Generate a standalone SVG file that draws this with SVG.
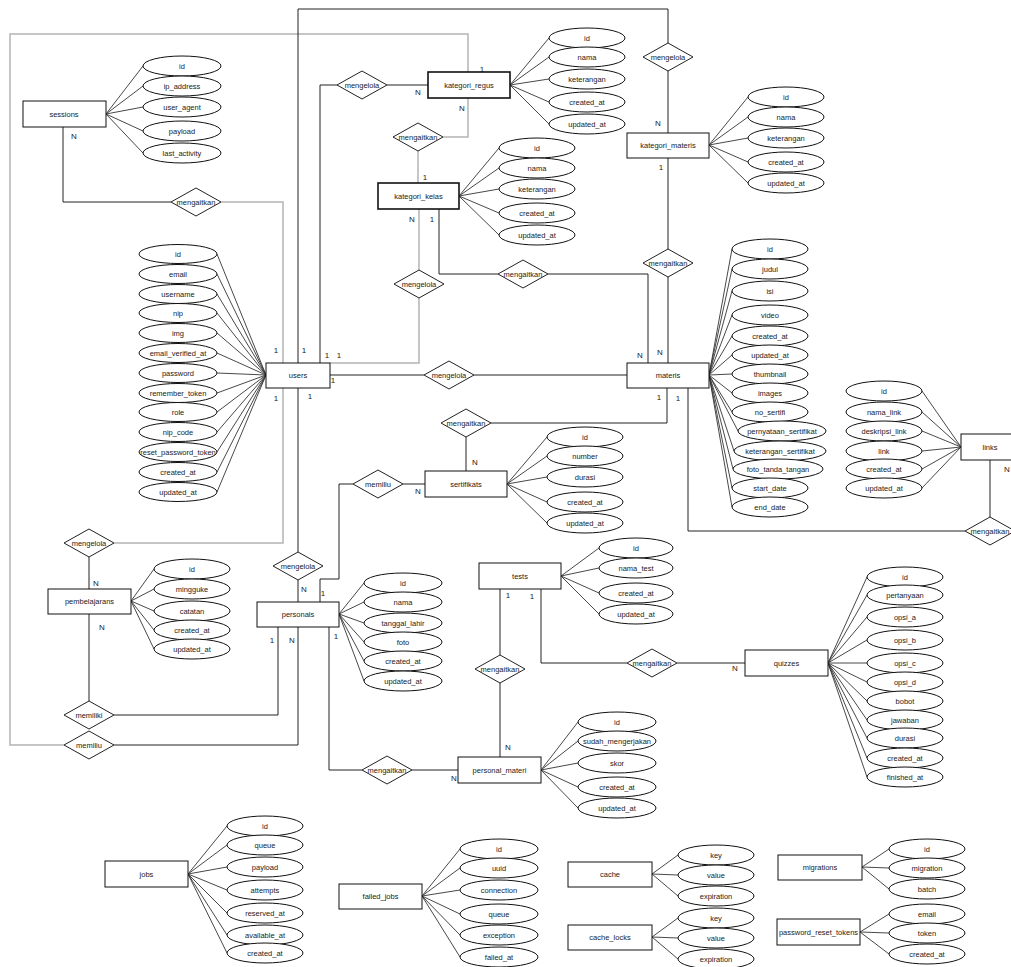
<svg xmlns="http://www.w3.org/2000/svg" width="1011" height="967" viewBox="0 0 1011 967">
<style>
.e{fill:#fff;stroke:#111;stroke-width:1}
.b{fill:#fff;stroke:#111;stroke-width:1}
.bb{fill:#fff;stroke:#111;stroke-width:1.6}
.d{fill:#fff;stroke:#222;stroke-width:1}
.t{font-family:"Liberation Sans",Arial,sans-serif;font-size:7.5px;fill:#222;text-anchor:middle;dominant-baseline:central}
.c{font-family:"Liberation Sans",Arial,sans-serif;font-size:8px;fill:#222;text-anchor:middle;dominant-baseline:central}
.l{stroke:#222;stroke-width:1;fill:none}
.a{stroke:#333;stroke-width:0.9;fill:none}
.g{stroke:#b4b4b4;stroke-width:1.5;fill:none}
</style>
<rect width="1011" height="967" fill="#fff"/>
<g id="connectors">
<polyline class="g" points="468,72 468,34 10,34 10,745 64,745"/>
<polyline class="g" points="468,98 468,137 443,137"/>
<polyline class="g" points="418,151 418,183"/>
<polyline class="g" points="419,209 419,270"/>
<polyline class="g" points="419,298 419,363 330,363"/>
<polyline class="g" points="221,202 283,202 283,363"/>
<polyline class="g" points="283,388 283,543 114,543"/>
<polyline class="l" points="298,363 298,9 668,9 668,43"/>
<polyline class="l" points="668,71 668,133"/>
<polyline class="l" points="320,363 320,85 337,85"/>
<polyline class="l" points="387,85 428,85"/>
<polyline class="l" points="439,209 439,274 498,274"/>
<polyline class="l" points="548,274 648,274 648,363"/>
<polyline class="l" points="668,158 668,249"/>
<polyline class="l" points="668,277 668,363"/>
<polyline class="l" points="330,375 424,375"/>
<polyline class="l" points="474,375 627,375"/>
<polyline class="l" points="667,388 667,423 491,423"/>
<polyline class="l" points="466,437 466,471"/>
<polyline class="l" points="688,388 688,531 965,531"/>
<polyline class="l" points="990,517 990,460"/>
<polyline class="l" points="298,388 298,552"/>
<polyline class="l" points="298,580 298,602"/>
<polyline class="l" points="320,602 320,579 339,579 339,484 353,484"/>
<polyline class="l" points="403,484 425,484"/>
<polyline class="l" points="63,127 63,202 171,202"/>
<polyline class="l" points="89,557 89,589"/>
<polyline class="l" points="89,614 89,701"/>
<polyline class="l" points="278,627 278,715 114,715"/>
<polyline class="l" points="298,627 298,745 114,745"/>
<polyline class="l" points="329,627 329,770 362,770"/>
<polyline class="l" points="412,770 458,770"/>
<polyline class="l" points="500,589 500,655"/>
<polyline class="l" points="500,683 500,757"/>
<polyline class="l" points="541,589 541,663 627,663"/>
<polyline class="l" points="677,663 745,663"/>
</g>
<g id="relationships">
<g id="r_mengelola_regus"><polygon class="d" points="337,85 362,71 387,85 362,99"/><text class="t" x="362" y="85">mengelola</text></g>
<g id="r_mengaitkan_regus_kelas"><polygon class="d" points="393,137 418,123 443,137 418,151"/><text class="t" x="418" y="137">mengaitkan</text></g>
<g id="r_mengelola_kelas_users"><polygon class="d" points="394,284 419,270 444,284 419,298"/><text class="t" x="419" y="284">mengelola</text></g>
<g id="r_mengaitkan_kelas_materis"><polygon class="d" points="498,274 523,260 548,274 523,288"/><text class="t" x="523" y="274">mengaitkan</text></g>
<g id="r_mengelola_katmateri"><polygon class="d" points="643,57 668,43 693,57 668,71"/><text class="t" x="668" y="57">mengelola</text></g>
<g id="r_mengaitkan_katmateri_materis"><polygon class="d" points="643,263 668,249 693,263 668,277"/><text class="t" x="668" y="263">mengaitkan</text></g>
<g id="r_mengaitkan_sessions"><polygon class="d" points="171,202 196,188 221,202 196,216"/><text class="t" x="196" y="202">mengaitkan</text></g>
<g id="r_mengelola_users_materis"><polygon class="d" points="424,375 449,361 474,375 449,389"/><text class="t" x="449" y="375">mengelola</text></g>
<g id="r_mengaitkan_materis_sertifikats"><polygon class="d" points="441,423 466,409 491,423 466,437"/><text class="t" x="466" y="423">mengaitkan</text></g>
<g id="r_memiliu_sertifikats"><polygon class="d" points="353,484 378,470 403,484 378,498"/><text class="t" x="378" y="484">memiliu</text></g>
<g id="r_mengaitkan_links"><polygon class="d" points="965,531 990,517 1015,531 990,545"/><text class="t" x="990" y="531">mengaitkan</text></g>
<g id="r_mengelola_pembelajarans"><polygon class="d" points="64,543 89,529 114,543 89,557"/><text class="t" x="89" y="543">mengelola</text></g>
<g id="r_mengelola_personals"><polygon class="d" points="273,566 298,552 323,566 298,580"/><text class="t" x="298" y="566">mengelola</text></g>
<g id="r_memiliki"><polygon class="d" points="64,715 89,701 114,715 89,729"/><text class="t" x="89" y="715">memiliki</text></g>
<g id="r_memiliu"><polygon class="d" points="64,745 89,731 114,745 89,759"/><text class="t" x="89" y="745">memiliu</text></g>
<g id="r_mengaitkan_tests_pm"><polygon class="d" points="475,669 500,655 525,669 500,683"/><text class="t" x="500" y="669">mengaitkan</text></g>
<g id="r_mengaitkan_tests_quizzes"><polygon class="d" points="627,663 652,649 677,663 652,677"/><text class="t" x="652" y="663">mengaitkan</text></g>
<g id="r_mengaitkan_personals_pm"><polygon class="d" points="362,770 387,756 412,770 387,784"/><text class="t" x="387" y="770">mengaitkan</text></g>
</g>
<g id="sessions">
<path class="a" d="M106,114L143,66M106,114L143,86M106,114L143,107M106,114L143,131M106,114L143,153"/>
<ellipse class="e" cx="182" cy="66" rx="39" ry="10"/><text class="t" x="182" y="66">id</text>
<ellipse class="e" cx="182" cy="86" rx="39" ry="10"/><text class="t" x="182" y="86">ip_address</text>
<ellipse class="e" cx="182" cy="107" rx="39" ry="10"/><text class="t" x="182" y="107">user_agent</text>
<ellipse class="e" cx="182" cy="131" rx="39" ry="10"/><text class="t" x="182" y="131">payload</text>
<ellipse class="e" cx="182" cy="153" rx="39" ry="10"/><text class="t" x="182" y="153">last_activity</text>
<rect class="b" x="23" y="101" width="83" height="26"/><text class="t" x="64" y="114">sessions</text>
</g>
<g id="kategori_regus">
<path class="a" d="M510,85L549,38M510,85L549,57M510,85L549,79M510,85L549,102M510,85L549,124"/>
<ellipse class="e" cx="587" cy="38" rx="38" ry="10"/><text class="t" x="587" y="38">id</text>
<ellipse class="e" cx="587" cy="57" rx="38" ry="10"/><text class="t" x="587" y="57">nama</text>
<ellipse class="e" cx="587" cy="79" rx="38" ry="10"/><text class="t" x="587" y="79">keterangan</text>
<ellipse class="e" cx="587" cy="102" rx="38" ry="10"/><text class="t" x="587" y="102">created_at</text>
<ellipse class="e" cx="587" cy="124" rx="38" ry="10"/><text class="t" x="587" y="124">updated_at</text>
<rect class="bb" x="428" y="72" width="82" height="26"/><text class="t" x="469" y="85">kategori_regus</text>
</g>
<g id="kategori_kelas">
<path class="a" d="M459,196L499,148M459,196L499,168M459,196L499,189M459,196L499,213M459,196L499,235"/>
<ellipse class="e" cx="537" cy="148" rx="38" ry="10"/><text class="t" x="537" y="148">id</text>
<ellipse class="e" cx="537" cy="168" rx="38" ry="10"/><text class="t" x="537" y="168">nama</text>
<ellipse class="e" cx="537" cy="189" rx="38" ry="10"/><text class="t" x="537" y="189">keterangan</text>
<ellipse class="e" cx="537" cy="213" rx="38" ry="10"/><text class="t" x="537" y="213">created_at</text>
<ellipse class="e" cx="537" cy="235" rx="38" ry="10"/><text class="t" x="537" y="235">updated_at</text>
<rect class="bb" x="378" y="183" width="81" height="26"/><text class="t" x="418.5" y="196">kategori_kelas</text>
</g>
<g id="kategori_materis">
<path class="a" d="M709,145L748,97M709,145L748,117M709,145L748,138M709,145L748,162M709,145L748,183"/>
<ellipse class="e" cx="786" cy="97" rx="38" ry="10"/><text class="t" x="786" y="97">id</text>
<ellipse class="e" cx="786" cy="117" rx="38" ry="10"/><text class="t" x="786" y="117">nama</text>
<ellipse class="e" cx="786" cy="138" rx="38" ry="10"/><text class="t" x="786" y="138">keterangan</text>
<ellipse class="e" cx="786" cy="162" rx="38" ry="10"/><text class="t" x="786" y="162">created_at</text>
<ellipse class="e" cx="786" cy="183" rx="38" ry="10"/><text class="t" x="786" y="183">updated_at</text>
<rect class="b" x="627" y="133" width="82" height="25"/><text class="t" x="668" y="145.5">kategori_materis</text>
</g>
<g id="users">
<path class="a" d="M266,375L217,254M266,375L217,274M266,375L217,294M266,375L217,313M266,375L217,333M266,375L217,353M266,375L217,373M266,375L217,393M266,375L217,412M266,375L217,432M266,375L217,452M266,375L217,472M266,375L217,492"/>
<ellipse class="e" cx="178" cy="254" rx="39" ry="9.5"/><text class="t" x="178" y="254">id</text>
<ellipse class="e" cx="178" cy="274" rx="39" ry="9.5"/><text class="t" x="178" y="274">email</text>
<ellipse class="e" cx="178" cy="294" rx="39" ry="9.5"/><text class="t" x="178" y="294">username</text>
<ellipse class="e" cx="178" cy="313" rx="39" ry="9.5"/><text class="t" x="178" y="313">nip</text>
<ellipse class="e" cx="178" cy="333" rx="39" ry="9.5"/><text class="t" x="178" y="333">img</text>
<ellipse class="e" cx="178" cy="353" rx="39" ry="9.5"/><text class="t" x="178" y="353">email_verified_at</text>
<ellipse class="e" cx="178" cy="373" rx="39" ry="9.5"/><text class="t" x="178" y="373">password</text>
<ellipse class="e" cx="178" cy="393" rx="39" ry="9.5"/><text class="t" x="178" y="393">remember_token</text>
<ellipse class="e" cx="178" cy="412" rx="39" ry="9.5"/><text class="t" x="178" y="412">role</text>
<ellipse class="e" cx="178" cy="432" rx="39" ry="9.5"/><text class="t" x="178" y="432">nip_code</text>
<ellipse class="e" cx="178" cy="452" rx="39" ry="9.5"/><text class="t" x="178" y="452">reset_password_token</text>
<ellipse class="e" cx="178" cy="472" rx="39" ry="9.5"/><text class="t" x="178" y="472">created_at</text>
<ellipse class="e" cx="178" cy="492" rx="39" ry="9.5"/><text class="t" x="178" y="492">updated_at</text>
<rect class="b" x="266" y="363" width="64" height="25"/><text class="t" x="298" y="375.5">users</text>
</g>
<g id="materis">
<path class="a" d="M709,375L732,249M709,375L732,269M709,375L732,291M709,375L732,315M709,375L732,336M709,375L732,355M709,375L732,374M709,375L732,393M709,375L732,412M709,375L738,431M709,375L734,451M709,375L733,469M709,375L732,488M709,375L732,507"/>
<ellipse class="e" cx="770" cy="249" rx="38" ry="10"/><text class="t" x="770" y="249">id</text>
<ellipse class="e" cx="770" cy="269" rx="38" ry="10"/><text class="t" x="770" y="269">judul</text>
<ellipse class="e" cx="770" cy="291" rx="38" ry="10"/><text class="t" x="770" y="291">isi</text>
<ellipse class="e" cx="770" cy="315" rx="38" ry="10"/><text class="t" x="770" y="315">video</text>
<ellipse class="e" cx="770" cy="336" rx="38" ry="10"/><text class="t" x="770" y="336">created_at</text>
<ellipse class="e" cx="770" cy="355" rx="38" ry="10"/><text class="t" x="770" y="355">updated_at</text>
<ellipse class="e" cx="770" cy="374" rx="38" ry="10"/><text class="t" x="770" y="374">thumbnail</text>
<ellipse class="e" cx="770" cy="393" rx="38" ry="10"/><text class="t" x="770" y="393">images</text>
<ellipse class="e" cx="770" cy="412" rx="38" ry="10"/><text class="t" x="770" y="412">no_sertifi</text>
<ellipse class="e" cx="782" cy="431" rx="44" ry="10"/><text class="t" x="782" y="431">pernyataan_sertifikat</text>
<ellipse class="e" cx="780" cy="451" rx="46" ry="10"/><text class="t" x="780" y="451">keterangan_sertifikat</text>
<ellipse class="e" cx="778" cy="469" rx="45" ry="10"/><text class="t" x="778" y="469">foto_tanda_tangan</text>
<ellipse class="e" cx="770" cy="488" rx="38" ry="10"/><text class="t" x="770" y="488">start_date</text>
<ellipse class="e" cx="770" cy="507" rx="38" ry="10"/><text class="t" x="770" y="507">end_date</text>
<rect class="b" x="627" y="363" width="82" height="25"/><text class="t" x="668" y="375.5">materis</text>
</g>
<g id="links">
<path class="a" d="M961,447L922,391M961,447L922,412M961,447L922,431M961,447L922,451M961,447L922,469M961,447L922,488"/>
<ellipse class="e" cx="884" cy="391" rx="38" ry="10"/><text class="t" x="884" y="391">id</text>
<ellipse class="e" cx="884" cy="412" rx="38" ry="10"/><text class="t" x="884" y="412">nama_link</text>
<ellipse class="e" cx="884" cy="431" rx="38" ry="10"/><text class="t" x="884" y="431">deskripsi_link</text>
<ellipse class="e" cx="884" cy="451" rx="38" ry="10"/><text class="t" x="884" y="451">link</text>
<ellipse class="e" cx="884" cy="469" rx="38" ry="10"/><text class="t" x="884" y="469">created_at</text>
<ellipse class="e" cx="884" cy="488" rx="38" ry="10"/><text class="t" x="884" y="488">updated_at</text>
<rect class="b" x="961" y="434" width="58" height="26"/><text class="t" x="990" y="447">links</text>
</g>
<g id="sertifikats">
<path class="a" d="M507,484L547,437M507,484L547,456M507,484L547,477M507,484L547,502M507,484L547,523"/>
<ellipse class="e" cx="585" cy="437" rx="38" ry="10"/><text class="t" x="585" y="437">id</text>
<ellipse class="e" cx="585" cy="456" rx="38" ry="10"/><text class="t" x="585" y="456">number</text>
<ellipse class="e" cx="585" cy="477" rx="38" ry="10"/><text class="t" x="585" y="477">durasi</text>
<ellipse class="e" cx="585" cy="502" rx="38" ry="10"/><text class="t" x="585" y="502">created_at</text>
<ellipse class="e" cx="585" cy="523" rx="38" ry="10"/><text class="t" x="585" y="523">updated_at</text>
<rect class="b" x="425" y="471" width="82" height="26"/><text class="t" x="466" y="484">sertifikats</text>
</g>
<g id="pembelajarans">
<path class="a" d="M131,601L154,569M131,601L154,589M131,601L154,611M131,601L154,630M131,601L154,649"/>
<ellipse class="e" cx="192" cy="569" rx="38" ry="10"/><text class="t" x="192" y="569">id</text>
<ellipse class="e" cx="192" cy="589" rx="38" ry="10"/><text class="t" x="192" y="589">mingguke</text>
<ellipse class="e" cx="192" cy="611" rx="38" ry="10"/><text class="t" x="192" y="611">catatan</text>
<ellipse class="e" cx="192" cy="630" rx="38" ry="10"/><text class="t" x="192" y="630">created_at</text>
<ellipse class="e" cx="192" cy="649" rx="38" ry="10"/><text class="t" x="192" y="649">updated_at</text>
<rect class="b" x="48" y="589" width="83" height="25"/><text class="t" x="89.5" y="601.5">pembelajarans</text>
</g>
<g id="personals">
<path class="a" d="M339,614L364,583M339,614L364,602M339,614L364,623M339,614L364,642M339,614L364,661M339,614L364,681"/>
<ellipse class="e" cx="403" cy="583" rx="39" ry="10"/><text class="t" x="403" y="583">id</text>
<ellipse class="e" cx="403" cy="602" rx="39" ry="10"/><text class="t" x="403" y="602">nama</text>
<ellipse class="e" cx="403" cy="623" rx="39" ry="10"/><text class="t" x="403" y="623">tanggal_lahir</text>
<ellipse class="e" cx="403" cy="642" rx="39" ry="10"/><text class="t" x="403" y="642">foto</text>
<ellipse class="e" cx="403" cy="661" rx="39" ry="10"/><text class="t" x="403" y="661">created_at</text>
<ellipse class="e" cx="403" cy="681" rx="39" ry="10"/><text class="t" x="403" y="681">updated_at</text>
<rect class="b" x="257" y="602" width="82" height="25"/><text class="t" x="298" y="614.5">personals</text>
</g>
<g id="tests">
<path class="a" d="M561,576L599,548M561,576L599,568M561,576L599,593M561,576L599,614"/>
<ellipse class="e" cx="636" cy="548" rx="37" ry="10"/><text class="t" x="636" y="548">id</text>
<ellipse class="e" cx="636" cy="568" rx="37" ry="10"/><text class="t" x="636" y="568">nama_test</text>
<ellipse class="e" cx="636" cy="593" rx="37" ry="10"/><text class="t" x="636" y="593">created_at</text>
<ellipse class="e" cx="636" cy="614" rx="37" ry="10"/><text class="t" x="636" y="614">updated_at</text>
<rect class="b" x="479" y="563" width="82" height="26"/><text class="t" x="520" y="576">tests</text>
</g>
<g id="quizzes">
<path class="a" d="M828,663L867,577M828,663L867,595M828,663L867,617M828,663L867,640M828,663L867,663M828,663L867,682M828,663L867,701M828,663L867,720M828,663L867,738M828,663L867,758M828,663L867,777"/>
<ellipse class="e" cx="905" cy="577" rx="38" ry="10"/><text class="t" x="905" y="577">id</text>
<ellipse class="e" cx="905" cy="595" rx="38" ry="10"/><text class="t" x="905" y="595">pertanyaan</text>
<ellipse class="e" cx="905" cy="617" rx="38" ry="10"/><text class="t" x="905" y="617">opsi_a</text>
<ellipse class="e" cx="905" cy="640" rx="38" ry="10"/><text class="t" x="905" y="640">opsi_b</text>
<ellipse class="e" cx="905" cy="663" rx="38" ry="10"/><text class="t" x="905" y="663">opsi_c</text>
<ellipse class="e" cx="905" cy="682" rx="38" ry="10"/><text class="t" x="905" y="682">opsi_d</text>
<ellipse class="e" cx="905" cy="701" rx="38" ry="10"/><text class="t" x="905" y="701">bobot</text>
<ellipse class="e" cx="905" cy="720" rx="38" ry="10"/><text class="t" x="905" y="720">jawaban</text>
<ellipse class="e" cx="905" cy="738" rx="38" ry="10"/><text class="t" x="905" y="738">durasi</text>
<ellipse class="e" cx="905" cy="758" rx="38" ry="10"/><text class="t" x="905" y="758">created_at</text>
<ellipse class="e" cx="905" cy="777" rx="38" ry="10"/><text class="t" x="905" y="777">finished_at</text>
<rect class="b" x="745" y="650" width="83" height="26"/><text class="t" x="786.5" y="663">quizzes</text>
</g>
<g id="personal_materi">
<path class="a" d="M541,770L578,722M541,770L578,741M541,770L578,763M541,770L578,787M541,770L578,808"/>
<ellipse class="e" cx="617" cy="722" rx="39" ry="10"/><text class="t" x="617" y="722">id</text>
<ellipse class="e" cx="617" cy="741" rx="39" ry="10"/><text class="t" x="617" y="741">sudah_mengerjakan</text>
<ellipse class="e" cx="617" cy="763" rx="39" ry="10"/><text class="t" x="617" y="763">skor</text>
<ellipse class="e" cx="617" cy="787" rx="39" ry="10"/><text class="t" x="617" y="787">created_at</text>
<ellipse class="e" cx="617" cy="808" rx="39" ry="10"/><text class="t" x="617" y="808">updated_at</text>
<rect class="b" x="458" y="757" width="83" height="26"/><text class="t" x="499.5" y="770">personal_materi</text>
</g>
<g id="jobs">
<path class="a" d="M188,874L227,826M188,874L227,845M188,874L227,867M188,874L227,890M188,874L227,913M188,874L227,935M188,874L227,953"/>
<ellipse class="e" cx="265" cy="826" rx="38" ry="10"/><text class="t" x="265" y="826">id</text>
<ellipse class="e" cx="265" cy="845" rx="38" ry="10"/><text class="t" x="265" y="845">queue</text>
<ellipse class="e" cx="265" cy="867" rx="38" ry="10"/><text class="t" x="265" y="867">payload</text>
<ellipse class="e" cx="265" cy="890" rx="38" ry="10"/><text class="t" x="265" y="890">attempts</text>
<ellipse class="e" cx="265" cy="913" rx="38" ry="10"/><text class="t" x="265" y="913">reserved_at</text>
<ellipse class="e" cx="265" cy="935" rx="38" ry="10"/><text class="t" x="265" y="935">available_at</text>
<ellipse class="e" cx="265" cy="953" rx="38" ry="10"/><text class="t" x="265" y="953">created_at</text>
<rect class="b" x="105" y="861" width="83" height="26"/><text class="t" x="146.5" y="874">jobs</text>
</g>
<g id="failed_jobs">
<path class="a" d="M422,896L460,849M422,896L460,868M422,896L460,890M422,896L460,914M422,896L460,935M422,896L460,957"/>
<ellipse class="e" cx="499" cy="849" rx="39" ry="10"/><text class="t" x="499" y="849">id</text>
<ellipse class="e" cx="499" cy="868" rx="39" ry="10"/><text class="t" x="499" y="868">uuid</text>
<ellipse class="e" cx="499" cy="890" rx="39" ry="10"/><text class="t" x="499" y="890">connection</text>
<ellipse class="e" cx="499" cy="914" rx="39" ry="10"/><text class="t" x="499" y="914">queue</text>
<ellipse class="e" cx="499" cy="935" rx="39" ry="10"/><text class="t" x="499" y="935">exception</text>
<ellipse class="e" cx="499" cy="957" rx="39" ry="10"/><text class="t" x="499" y="957">failed_at</text>
<rect class="b" x="339" y="884" width="83" height="25"/><text class="t" x="380.5" y="896.5">failed_jobs</text>
</g>
<g id="cache">
<path class="a" d="M652,874L678,855M652,874L678,875M652,874L678,896"/>
<ellipse class="e" cx="716" cy="855" rx="38" ry="10"/><text class="t" x="716" y="855">key</text>
<ellipse class="e" cx="716" cy="875" rx="38" ry="10"/><text class="t" x="716" y="875">value</text>
<ellipse class="e" cx="716" cy="896" rx="38" ry="10"/><text class="t" x="716" y="896">expiration</text>
<rect class="b" x="568" y="862" width="84" height="25"/><text class="t" x="610" y="874.5">cache</text>
</g>
<g id="cache_locks">
<path class="a" d="M652,937L678,918M652,937L678,938M652,937L678,959"/>
<ellipse class="e" cx="716" cy="918" rx="38" ry="10"/><text class="t" x="716" y="918">key</text>
<ellipse class="e" cx="716" cy="938" rx="38" ry="10"/><text class="t" x="716" y="938">value</text>
<ellipse class="e" cx="716" cy="959" rx="38" ry="10"/><text class="t" x="716" y="959">expiration</text>
<rect class="b" x="568" y="925" width="84" height="25"/><text class="t" x="610" y="937.5">cache_locks</text>
</g>
<g id="migrations">
<path class="a" d="M862,867L889,849M862,867L889,868M862,867L889,889"/>
<ellipse class="e" cx="927" cy="849" rx="38" ry="10"/><text class="t" x="927" y="849">id</text>
<ellipse class="e" cx="927" cy="868" rx="38" ry="10"/><text class="t" x="927" y="868">migration</text>
<ellipse class="e" cx="927" cy="889" rx="38" ry="10"/><text class="t" x="927" y="889">batch</text>
<rect class="b" x="778" y="855" width="84" height="25"/><text class="t" x="820" y="867.5">migrations</text>
</g>
<g id="password_reset_tokens">
<path class="a" d="M860,932L889,914M860,932L889,933M860,932L889,954"/>
<ellipse class="e" cx="927" cy="914" rx="38" ry="10"/><text class="t" x="927" y="914">email</text>
<ellipse class="e" cx="927" cy="933" rx="38" ry="10"/><text class="t" x="927" y="933">token</text>
<ellipse class="e" cx="927" cy="954" rx="38" ry="10"/><text class="t" x="927" y="954">created_at</text>
<rect class="b" x="777" y="919" width="83" height="26"/><text class="t" x="818.5" y="932">password_reset_tokens</text>
</g>
<g id="cardinalities">
<text class="c" x="74" y="136">N</text>
<text class="c" x="418" y="92">N</text>
<text class="c" x="482" y="69">1</text>
<text class="c" x="462" y="108">N</text>
<text class="c" x="425" y="177">1</text>
<text class="c" x="412" y="219">N</text>
<text class="c" x="432" y="219">1</text>
<text class="c" x="658" y="123">N</text>
<text class="c" x="661" y="167">1</text>
<text class="c" x="276" y="350">1</text>
<text class="c" x="304" y="350">1</text>
<text class="c" x="327" y="355">1</text>
<text class="c" x="339" y="355">1</text>
<text class="c" x="333" y="380">1</text>
<text class="c" x="276" y="398">1</text>
<text class="c" x="310" y="396">1</text>
<text class="c" x="640" y="355">N</text>
<text class="c" x="660" y="352">N</text>
<text class="c" x="659" y="397">1</text>
<text class="c" x="678" y="398">1</text>
<text class="c" x="475" y="462">N</text>
<text class="c" x="418" y="491">N</text>
<text class="c" x="1007" y="469">N</text>
<text class="c" x="96" y="583">N</text>
<text class="c" x="102" y="627">N</text>
<text class="c" x="304" y="589">N</text>
<text class="c" x="323" y="593">1</text>
<text class="c" x="272" y="640">1</text>
<text class="c" x="292" y="640">N</text>
<text class="c" x="336" y="636">1</text>
<text class="c" x="508" y="595">1</text>
<text class="c" x="532" y="596">1</text>
<text class="c" x="735" y="668">N</text>
<text class="c" x="508" y="747">N</text>
<text class="c" x="454" y="778">N</text>
</g>
</svg>
